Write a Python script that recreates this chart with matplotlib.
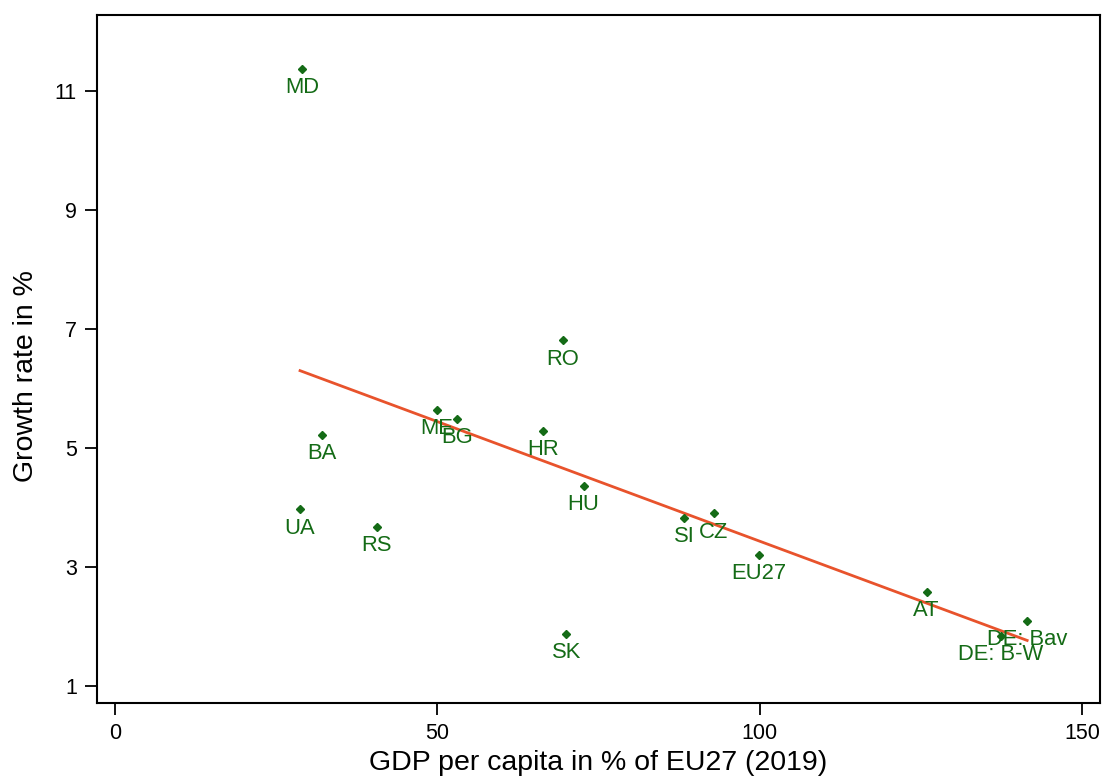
import numpy as np
import matplotlib
matplotlib.use("Agg")
import matplotlib.pyplot as plt

plt.rcParams['font.family'] = ['Liberation Sans', 'DejaVu Sans']

# GDP per capita in % of EU27 (2019) and growth rate in %
countries = ['MD', 'RO', 'ME', 'BG', 'HR', 'BA', 'UA', 'RS', 'HU',
             'SI', 'CZ', 'EU27', 'AT', 'DE: Bav', 'DE: B-W', 'SK']
gdp_pc = [29.0, 69.5, 49.9, 53.0, 66.4, 32.1, 28.7, 40.6, 72.7,
          88.3, 92.9, 99.9, 125.9, 141.5, 137.4, 70.0]
growth = [11.37, 6.81, 5.64, 5.49, 5.29, 5.22, 3.97, 3.67, 4.36,
          3.82, 3.90, 3.20, 2.58, 2.09, 1.84, 1.87]

x_ticks = [0, 50, 100, 150]
y_ticks = [1, 3, 5, 7, 9, 11]

green = '#146B16'
orange = '#E8532C'

fig = plt.figure(figsize=(11.04, 7.76), dpi=100)
ax = fig.add_axes([97 / 1104, 1 - 703 / 776, (1100 - 97) / 1104, (703 - 15) / 776])

x = np.array(gdp_pc)
y = np.array(growth)

# linear fit
b, a = np.polyfit(x, y, 1)
xs = np.array([x.min(), x.max()])
ax.plot(xs, a + b * xs, color=orange, lw=2, zorder=2)

ax.plot(x, y, 'D', color=green, ms=4.5, zorder=3)
for name, xi, yi in zip(countries, gdp_pc, growth):
    ax.annotate(name, (xi, yi), xytext=(0, -13.5), textcoords='offset points',
                ha='center', va='center', color=green, fontsize=15.8, zorder=4)

ax.set_xlim(-2.8, 152.8)
ax.set_ylim(0.714, 12.28)
ax.set_xticks(x_ticks)
ax.set_yticks(y_ticks)
ax.tick_params(direction='out', length=8.5, width=1.3, labelsize=15.5, pad=6)
for s in ax.spines.values():
    s.set_linewidth(1.5)

ax.set_xlabel('GDP per capita in % of EU27 (2019)', fontsize=20.5)
ax.set_ylabel('Growth rate in %', fontsize=20.5)
ax.yaxis.set_label_coords(-0.058, 0.475)

fig.savefig('out.png', dpi=100)
